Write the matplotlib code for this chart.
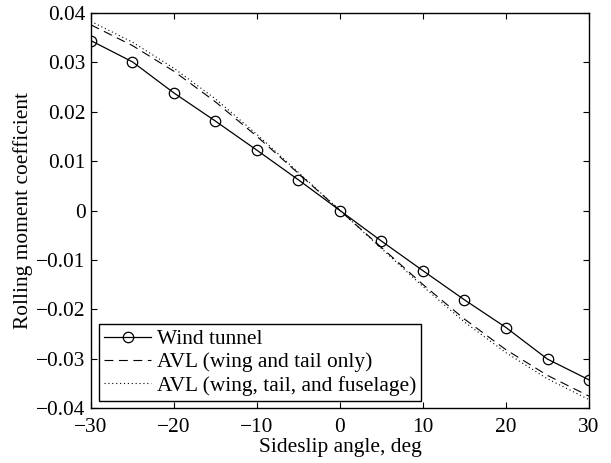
import matplotlib
matplotlib.use("Agg")
import matplotlib.pyplot as plt

plt.rcParams['font.family'] = ['Liberation Serif', 'DejaVu Serif']
plt.rcParams['mathtext.fontset'] = 'stix'

beta = [-30, -25, -20, -15, -10, -5, 0, 5, 10, 15, 20, 25, 30]
wind_tunnel = [0.0344, 0.0301, 0.0238, 0.0181, 0.0122, 0.0062, 0.0,
               -0.0062, -0.0122, -0.0181, -0.0237, -0.0301, -0.0343]
avl_wing_tail = [0.0376, 0.0334, 0.0282, 0.0220, 0.0150, 0.0075, 0.0,
                 -0.0075, -0.0150, -0.0220, -0.0282, -0.0334, -0.0376]
avl_full = [0.0383, 0.0341, 0.0288, 0.0226, 0.0154, 0.0077, 0.0,
            -0.0077, -0.0154, -0.0226, -0.0288, -0.0341, -0.0383]

labels = ["Wind tunnel", "AVL (wing and tail only)", "AVL (wing, tail, and fuselage)"]
xticks = [-30, -20, -10, 0, 10, 20, 30]
yticks = [-0.04, -0.03, -0.02, -0.01, 0, 0.01, 0.02, 0.03, 0.04]
ytick_labels = ["\u22120.04", "\u22120.03", "\u22120.02", "\u22120.01", "0", "0.01", "0.02", "0.03", "0.04"]
xtick_labels = ["\u221230", "\u221220", "\u221210", "0", "10", "20", "30"]

fs = 15.4

fig = plt.figure(figsize=(6.11, 4.63), dpi=100)
ax = fig.add_axes([0.1489, 0.1188, 0.8151, 0.8531])

ax.plot(beta, wind_tunnel, color='black', lw=0.9, marker='o', ms=7.5,
        mfc='none', mec='black', mew=0.9, label=labels[0])
ax.plot(beta, avl_wing_tail, color='black', lw=0.8, linestyle=(0, (8, 5)), label=labels[1])
ax.plot(beta, avl_full, color='black', lw=0.8, linestyle=(0, (1, 2.5)), label=labels[2])

ax.set_xlim(-30, 30)
ax.set_ylim(-0.04, 0.04)
ax.set_xticks(xticks)
ax.set_xticklabels(xtick_labels)
ax.set_yticks(yticks)
ax.set_yticklabels(ytick_labels)
ax.tick_params(direction='in', top=True, right=True, length=4, width=0.8,
               labelsize=fs)
ax.tick_params(axis='x', pad=7)
ax.tick_params(axis='y', pad=4)
for s in ax.spines.values():
    s.set_linewidth(1.0)

ax.set_xlabel("Sideslip angle, deg", fontsize=fs, labelpad=1)
ax.set_ylabel("Rolling moment coefficient", fontsize=fs, labelpad=2)

leg = ax.legend(loc='lower left', bbox_to_anchor=(0.016, 0.018), fontsize=fs,
                frameon=True, fancybox=False, edgecolor='black', framealpha=1,
                handlelength=2.2, handletextpad=0.25, labelspacing=0.15,
                borderpad=0.25, borderaxespad=0)
leg.get_frame().set_linewidth(1.0)

fig.savefig("out.png", dpi=100)
